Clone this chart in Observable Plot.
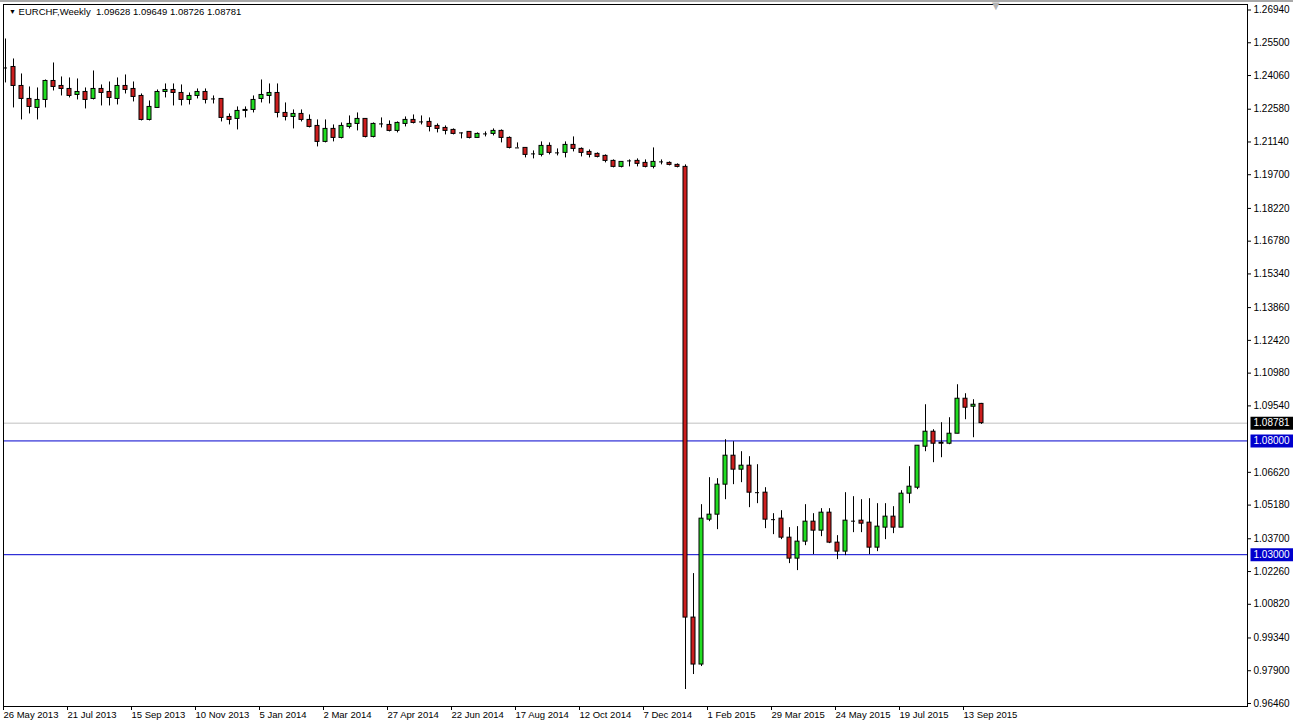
<!DOCTYPE html>
<html><head><meta charset="utf-8">
<script src="https://cdn.jsdelivr.net/npm/d3@7"></script>
<script src="https://cdn.jsdelivr.net/npm/@observablehq/plot@0.6"></script>
<style>
html,body{margin:0;padding:0;background:#fff;}
#wrap{position:relative;width:1293px;height:726px;overflow:hidden;background:#fff;}
#chart{position:absolute;left:0;top:0;}
#topbar{position:absolute;left:0;top:0;width:1293px;height:2px;background:#a8a8a8;}
#title{position:absolute;left:9px;top:6px;font:9.5px "Liberation Sans",Arial,sans-serif;color:#000;white-space:pre;line-height:12px;}
#title .tri{font-size:7px;vertical-align:1px;}
#shift{position:absolute;left:992px;top:1px;font:10px "DejaVu Sans",sans-serif;color:#b4b4b4;line-height:10px;}
</style></head><body>
<div id="wrap"><div id="chart"></div><div id="topbar"></div>
<div id="title"><span class="tri">▼</span> EURCHF,Weekly  1.09628 1.09649 1.08726 1.08781</div>
<div id="shift">▼</div></div>
<script>
// Weekly EURCHF candles, index 0 = week of 26 May 2013
const opens = [1.24392,1.24436,1.23602,1.23031,1.22636,1.22987,1.23821,1.23602,1.23470,1.23206,
1.23338,1.23031,1.23470,1.23338,1.23031,1.23602,1.23470,1.23163,1.22109,1.22636,
1.23338,1.23426,1.23294,1.22987,1.23163,1.23338,1.23031,1.23031,1.22240,1.22153,
1.22504,1.22548,1.23031,1.23163,1.23294,1.22416,1.22240,1.22372,1.22109,1.21845,
1.21143,1.21714,1.21318,1.21801,1.21933,1.22153,1.21362,1.21933,1.21889,1.21626,
1.21933,1.22109,1.22021,1.22021,1.21845,1.21757,1.21670,1.21538,1.21582,1.21318,
1.21494,1.21494,1.21626,1.21318,1.20879,1.20879,1.20616,1.20572,1.20967,1.20660,
1.20660,1.21011,1.20835,1.20703,1.20616,1.20528,1.20308,1.20045,1.20308,1.20308,
1.20220,1.20045,1.20264,1.20220,1.20133,1.20045,1.00236,0.98172,1.04540,1.04759,
1.06078,1.07351,1.06737,1.06912,1.05726,1.05726,1.04540,1.04584,1.03749,1.02827,
1.03574,1.04452,1.04057,1.04847,1.03530,1.03135,1.04474,1.04496,1.04408,1.03310,
1.04189,1.04672,1.04189,1.05682,1.05945,1.07746,1.08405,1.07922,1.07878,1.08317,
1.09855,1.09503,1.09628];
const highs = [1.25666,1.24788,1.24129,1.23558,1.23514,1.23865,1.24612,1.23997,1.23953,1.23909,
1.23514,1.24260,1.23646,1.23777,1.23953,1.24085,1.23777,1.23250,1.22943,1.23426,
1.23690,1.23690,1.23646,1.23294,1.23470,1.23470,1.23163,1.23031,1.22372,1.22680,
1.22680,1.23163,1.23865,1.23690,1.23690,1.22855,1.22548,1.22548,1.22328,1.22109,
1.22109,1.21889,1.21977,1.22284,1.22416,1.22153,1.21977,1.22197,1.22065,1.22021,
1.22240,1.22328,1.22284,1.22197,1.21933,1.21845,1.21714,1.21538,1.21582,1.21538,
1.21582,1.21714,1.21670,1.21362,1.21099,1.20879,1.20747,1.21143,1.21099,1.20835,
1.21143,1.21362,1.20879,1.20791,1.20660,1.20572,1.20352,1.20264,1.20352,1.20396,
1.20352,1.20879,1.20352,1.20264,1.20177,1.20133,1.02169,1.05199,1.06385,1.06341,
1.08054,1.07966,1.07527,1.07307,1.06956,1.05945,1.04803,1.04935,1.04189,1.04233,
1.05199,1.04803,1.05023,1.05023,1.03837,1.05726,1.05550,1.05418,1.05462,1.05243,
1.05243,1.05111,1.05814,1.06868,1.07790,1.09591,1.08493,1.08801,1.09020,1.10470,
1.10074,1.09811,1.09649];
const lows = [1.23734,1.22636,1.22109,1.22372,1.22109,1.22636,1.23382,1.23163,1.23075,1.22987,
1.22592,1.22987,1.22723,1.22723,1.22767,1.23250,1.22899,1.22065,1.22065,1.22636,
1.23075,1.22723,1.22723,1.22767,1.23031,1.22811,1.22811,1.22021,1.21889,1.21670,
1.22197,1.22416,1.22855,1.22811,1.22197,1.22065,1.21714,1.22021,1.21757,1.20923,
1.21099,1.21143,1.21274,1.21714,1.21626,1.21318,1.21318,1.21757,1.21582,1.21538,
1.21801,1.21933,1.21889,1.21582,1.21538,1.21450,1.21450,1.21274,1.21274,1.21318,
1.21362,1.21406,1.21099,1.20835,1.20879,1.20440,1.20396,1.20484,1.20572,1.20528,
1.20440,1.20703,1.20484,1.20440,1.20440,1.20220,1.20001,1.20001,1.20045,1.20045,
1.20001,1.19957,1.20133,1.20089,1.20001,0.97074,0.97733,0.98084,1.04452,1.04101,
1.05418,1.06078,1.06166,1.05067,1.05243,1.04145,1.03881,1.03662,1.02608,1.02301,
1.03398,1.03003,1.03793,1.03486,1.02784,1.02959,1.03969,1.03969,1.03003,1.03135,
1.03662,1.03925,1.04189,1.05243,1.05858,1.07527,1.07044,1.07263,1.07834,1.08317,
1.08933,1.08142,1.08726];
const closes = [1.24392,1.23602,1.23031,1.22680,1.22987,1.23821,1.23558,1.23470,1.23163,1.23338,
1.22987,1.23470,1.23294,1.23075,1.23602,1.23426,1.23119,1.22109,1.22680,1.23338,
1.23426,1.23294,1.22987,1.23163,1.23338,1.22987,1.23031,1.22197,1.22109,1.22504,
1.22548,1.22987,1.23206,1.23294,1.22416,1.22240,1.22372,1.22109,1.21801,1.21143,
1.21714,1.21318,1.21845,1.21933,1.22153,1.21362,1.21933,1.21933,1.21626,1.21977,
1.22109,1.21977,1.22021,1.21801,1.21714,1.21626,1.21494,1.21538,1.21318,1.21494,
1.21494,1.21626,1.21318,1.20879,1.20879,1.20572,1.20616,1.20967,1.20660,1.20660,
1.21011,1.20835,1.20660,1.20572,1.20484,1.20308,1.20045,1.20264,1.20308,1.20177,
1.20045,1.20264,1.20264,1.20133,1.20045,1.00236,0.98172,1.04584,1.04759,1.06078,
1.07351,1.06737,1.06912,1.05726,1.05726,1.04540,1.04540,1.03749,1.02827,1.03574,
1.04452,1.04057,1.04847,1.03530,1.03135,1.04496,1.04474,1.04364,1.03310,1.04233,
1.04672,1.04189,1.05682,1.05989,1.07790,1.08405,1.07878,1.07878,1.08317,1.09855,
1.09460,1.09591,1.08781];

// Axis ticks and labels
const priceTicks = [1.2694,1.2550,1.2406,1.2258,1.2114,1.1970,1.1822,1.1678,1.1534,1.1386,
1.1242,1.1098,1.0954,1.0662,1.0518,1.0370,1.0226,1.0082,0.9934,0.9790,0.9646];
const dateTickIndex = [0,8,16,24,32,40,48,56,64,72,80,88,96,104,112,120];
const dateTickLabels = ["26 May 2013","21 Jul 2013","15 Sep 2013","10 Nov 2013","5 Jan 2014",
"2 Mar 2014","27 Apr 2014","22 Jun 2014","17 Aug 2014","12 Oct 2014","7 Dec 2014",
"1 Feb 2015","29 Mar 2015","24 May 2015","19 Jul 2015","13 Sep 2015"];

// Horizontal levels
const supportLevels = [1.08, 1.03];
const currentPrice = 1.08781;

const candles = opens.map((o, i) => ({i, open: o, high: highs[i], low: lows[i], close: closes[i]}));
const upC = candles.filter(d => d.close > d.open);
const downC = candles.filter(d => d.close < d.open);
const dojiC = candles.filter(d => d.close === d.open);
const labelOf = new Map(dateTickIndex.map((k, j) => [k, dateTickLabels[j]]));

const boxSymbol = {draw(ctx) { ctx.moveTo(3, -6.5); ctx.lineTo(47, -6.5); ctx.lineTo(47, 6.5); ctx.lineTo(3, 6.5); ctx.closePath(); }};
const blueBoxes = supportLevels.map(v => ({v}));
const blackBoxes = [{v: currentPrice}];
const allBoxes = blueBoxes.concat(blackBoxes);

const GREEN = "#22dd22", RED = "#cc1e1e", BLUE = "#0000cd";

const chart = Plot.plot({
  width: 1293, height: 726,
  marginLeft: 3, marginRight: 46, marginTop: 4, marginBottom: 20,
  style: {fontFamily: '"Liberation Sans", Arial, sans-serif', fontSize: "10px", background: "white", color: "black", overflow: "visible"},
  x: {type: "linear", domain: [-0.25, 155.25]},
  y: {domain: [0.96328, 1.27182]},
  marks: [
    Plot.ruleY([currentPrice], {stroke: "#c0c0c0"}),
    Plot.ruleY(supportLevels, {stroke: BLUE}),
    Plot.ruleX(candles, {x: "i", y1: "low", y2: "high", stroke: "black"}),
    Plot.rect(upC, {x1: d => d.i - 0.5, x2: d => d.i + 0.5, y1: "open", y2: "close", insetLeft: 2, insetRight: 2, fill: GREEN, stroke: "black"}),
    Plot.rect(downC, {x1: d => d.i - 0.5, x2: d => d.i + 0.5, y1: "open", y2: "close", insetLeft: 2, insetRight: 2, fill: RED, stroke: "black"}),
    Plot.ruleY(dojiC, {y: "close", x1: d => d.i - 0.25, x2: d => d.i + 0.25, stroke: "black"}),
    Plot.frame({stroke: "black"}),
    Plot.axisY(priceTicks, {anchor: "right", tickSize: 3, tickPadding: 3, tickFormat: d => d.toFixed(5), label: null}),
    Plot.axisX(dateTickIndex, {anchor: "bottom", tickSize: 4, tickPadding: 1, textAnchor: "start", dx: -2, fontSize: 9.5, tickFormat: k => labelOf.get(k), label: null}),
    Plot.dot(blueBoxes, {y: "v", frameAnchor: "right", symbol: boxSymbol, fill: BLUE, stroke: null}),
    Plot.dot(blackBoxes, {y: "v", frameAnchor: "right", symbol: boxSymbol, fill: "black", stroke: null}),
    Plot.text(allBoxes, {y: "v", frameAnchor: "right", dx: 6, textAnchor: "start", fill: "white", text: d => d.v.toFixed(5)})
  ]
});
document.getElementById("chart").appendChild(chart);
</script>
</body></html>
